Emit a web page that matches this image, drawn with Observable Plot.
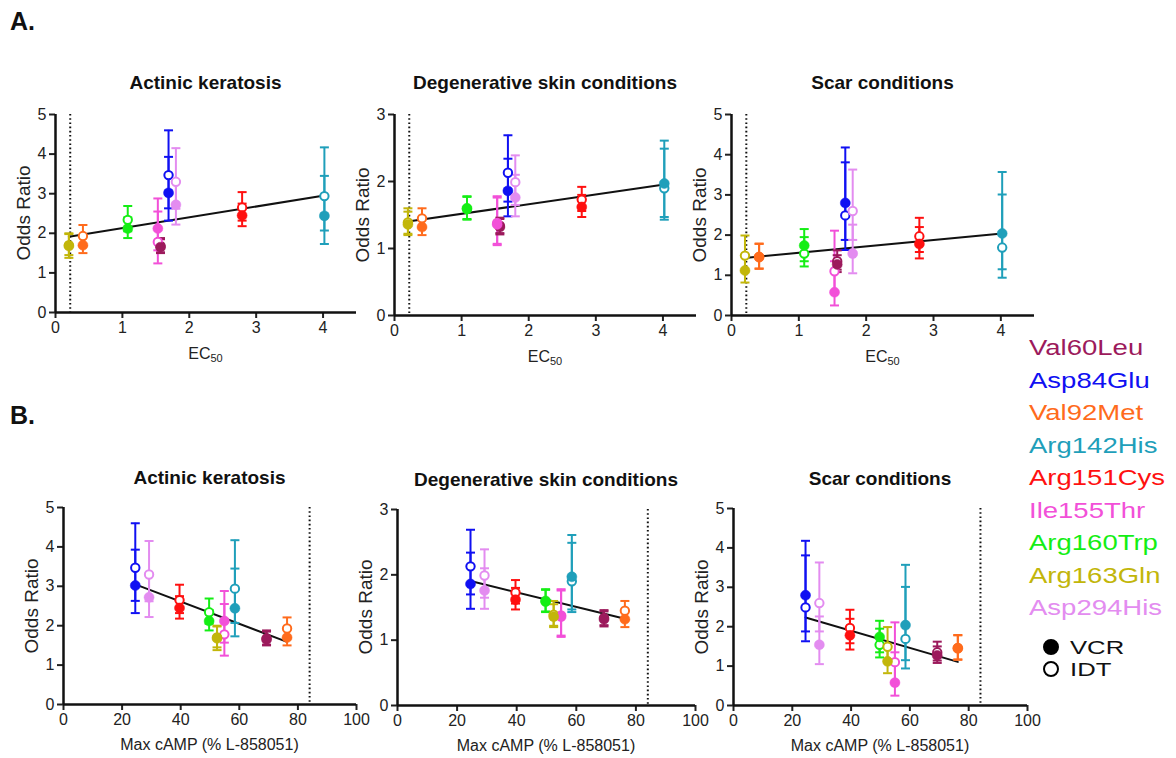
<!DOCTYPE html>
<html><head><meta charset="utf-8">
<script src="https://cdn.jsdelivr.net/npm/d3@7"></script>
<script src="https://cdn.jsdelivr.net/npm/@observablehq/plot@0.6"></script>
<style>
body{margin:0;background:#fff;font-family:"Liberation Sans",Arial,sans-serif;}
#root{position:relative;width:1176px;height:758px;overflow:hidden;background:#fff;}
.abs{position:absolute;white-space:nowrap;color:#111;line-height:1;}
.title{font-weight:bold;font-size:19px;transform:translate(-50%,-50%);}
.xlab{font-size:16px;transform:translate(-50%,-50%);color:#222;}
.xlab sub{font-size:11px;vertical-align:-3px;}
.ylab{font-size:19px;transform:translate(-50%,-50%) rotate(-90deg);color:#222;}
.panel{font-size:25px;font-weight:bold;}
.leg{font-size:22px;transform-origin:0 50%;transform:translateY(-50%) scaleX(1.25);}
.leg2{font-size:19px;transform-origin:0 50%;transform:translateY(-50%) scaleX(1.35);}
.dot{position:absolute;width:16px;height:16px;border-radius:50%;box-sizing:border-box;transform:translate(-50%,-50%);}
</style></head><body><div id="root"></div>
<script>
// ---------- data ----------
const variants = ["Val60Leu","Asp84Glu","Val92Met","Arg142His","Arg151Cys","Ile155Thr","Arg160Trp","Arg163Gln","Asp294His"];
const colors   = ["#9c1a5c","#1010f2","#ff6b1c","#1f9fba","#ff1010","#f250d8","#14ee14","#c2b60a","#e38cf0"];
const ec50     = [1.57, 1.69, 0.41, 4.02, 2.79, 1.53, 1.08, 0.20, 1.80];
const maxCamp  = [69.3, 24.5, 76.3, 58.5, 39.6, 54.9, 49.7, 52.4, 29.2];

// Actinic keratosis
const akVcr   = [1.65, 3.02, 1.70, 2.44, 2.45, 2.12, 2.12, 1.68, 2.72];
const akVcrLo = [1.50, 2.32, 1.50, 1.73, 2.18, 1.57, 1.88, 1.38, 2.22];
const akVcrHi = [1.85, 3.93, 1.92, 3.45, 2.75, 2.88, 2.40, 2.00, 3.32];
const akIdt   = [1.68, 3.47, 1.93, 2.94, 2.65, 1.78, 2.34, 1.70, 3.30];
const akIdtLo = [1.52, 2.63, 1.68, 2.07, 2.32, 1.24, 2.05, 1.45, 2.62];
const akIdtHi = [1.88, 4.60, 2.21, 4.17, 3.04, 2.55, 2.69, 1.98, 4.15];

// Degenerative skin conditions
const dsVcr   = [1.32, 1.86, 1.32, 1.97, 1.62, 1.36, 1.60, 1.36, 1.76];
const dsVcrLo = [1.21, 1.48, 1.20, 1.47, 1.47, 1.05, 1.44, 1.20, 1.48];
const dsVcrHi = [1.44, 2.34, 1.45, 2.61, 1.80, 1.78, 1.78, 1.55, 2.10];
const dsIdt   = [1.34, 2.13, 1.45, 1.90, 1.73, 1.38, 1.59, 1.39, 1.99];
const dsIdtLo = [1.23, 1.70, 1.31, 1.43, 1.56, 1.07, 1.43, 1.22, 1.65];
const dsIdtHi = [1.46, 2.69, 1.60, 2.49, 1.92, 1.76, 1.77, 1.60, 2.39];

// Scar conditions
const scVcr   = [1.27, 2.80, 1.45, 2.04, 1.78, 0.58, 1.74, 1.12, 1.54];
const scVcrLo = [1.08, 1.88, 1.16, 1.15, 1.42, 0.25, 1.35, 0.82, 1.05];
const scVcrHi = [1.50, 4.18, 1.79, 3.57, 2.20, 1.35, 2.15, 1.50, 2.26];
const scIdt   = [1.35, 2.49, 1.46, 1.69, 1.97, 1.10, 1.54, 1.49, 2.60];
const scIdtLo = [1.14, 1.63, 1.17, 0.94, 1.58, 0.58, 1.22, 1.10, 1.88];
const scIdtHi = [1.62, 3.81, 1.78, 3.01, 2.43, 2.11, 1.95, 1.99, 3.63];

const ec50Threshold = 0.22;
const maxThreshold = 84;

const conditions = {
  ak: {title: "Actinic keratosis", yMax: 5, vcr: akVcr, vcrLo: akVcrLo, vcrHi: akVcrHi, idt: akIdt, idtLo: akIdtLo, idtHi: akIdtHi},
  ds: {title: "Degenerative skin conditions", yMax: 3, vcr: dsVcr, vcrLo: dsVcrLo, vcrHi: dsVcrHi, idt: dsIdt, idtLo: dsIdtLo, idtHi: dsIdtHi},
  sc: {title: "Scar conditions", yMax: 5, vcr: scVcr, vcrLo: scVcrLo, vcrHi: scVcrHi, idt: scIdt, idtLo: scIdtLo, idtHi: scIdtHi}
};

function rowsFor(c, xs) {
  const rows = [];
  variants.forEach((v, i) => {
    rows.push({variant: v, assay: "VCR", x: xs[i], or: c.vcr[i], lo: c.vcrLo[i], hi: c.vcrHi[i]});
    rows.push({variant: v, assay: "IDT", x: xs[i], or: c.idt[i], lo: c.idtLo[i], hi: c.idtHi[i]});
  });
  return rows;
}

// ---------- layout ----------
const root = document.getElementById("root");
const FONT = "'Liberation Sans', Arial, sans-serif";
const ML = 40, MR = 12, MT = 10, MB = 32;

const panels = [
  {cond: "ak", x0: 55,  top: 114, w: 301, h: 198, mode: "A"},
  {cond: "ds", x0: 394, top: 114, w: 302, h: 201, mode: "A"},
  {cond: "sc", x0: 731, top: 114, w: 303, h: 201, mode: "A"},
  {cond: "ak", x0: 63,  top: 507, w: 293, h: 197, mode: "B"},
  {cond: "ds", x0: 397, top: 509, w: 298, h: 196, mode: "B"},
  {cond: "sc", x0: 733, top: 508, w: 294, h: 197, mode: "B"}
];

const capSymbol = {draw(ctx, size) { const w = Math.sqrt(size / Math.PI); ctx.moveTo(-w, 0); ctx.lineTo(w, 0); }};

function addDiv(cls, html, left, top) {
  const d = document.createElement("div");
  d.className = "abs " + cls;
  d.innerHTML = html;
  d.style.left = left + "px";
  d.style.top = top + "px";
  root.appendChild(d);
  return d;
}

for (const p of panels) {
  const c = conditions[p.cond];
  const isA = p.mode === "A";
  const xs = isA ? ec50 : maxCamp;
  const rows = rowsFor(c, xs);
  const vcrRows = rows.filter(r => r.assay === "VCR");
  const idtRows = rows.filter(r => r.assay === "IDT");
  const yTicks = d3.range(0, c.yMax + 1);
  const xDomain = isA ? [0, 4.5] : [0, 100];
  const xTicks = isA ? [0, 1, 2, 3, 4] : [0, 20, 40, 60, 80, 100];
  const thr = isA ? ec50Threshold : maxThreshold;

  const chart = Plot.plot({
    width: p.w + ML + MR,
    height: p.h + MT + MB,
    marginLeft: ML, marginRight: MR, marginTop: MT, marginBottom: MB,
    style: {fontFamily: FONT, fontSize: "16px", color: "#222", background: "transparent", overflow: "visible"},
    x: {domain: xDomain},
    y: {domain: [0, c.yMax]},
    color: {type: "ordinal", domain: variants, range: colors},
    marks: [
      Plot.axisX({ticks: xTicks, tickSize: 6, tickPadding: 3, strokeWidth: 2, fontSize: 16, label: null, tickFormat: d => String(d)}),
      Plot.axisY({ticks: yTicks, tickSize: 6, tickPadding: 3, strokeWidth: 2, fontSize: 16, label: null, tickFormat: d => String(d)}),
      Plot.ruleX([thr], {stroke: "#111", strokeWidth: 2, strokeDasharray: "1.6,2.6"}),
      Plot.linearRegressionY(rows, {x: "x", y: "or", stroke: "#111", strokeWidth: 2, ci: 0}),
      Plot.ruleX(rows, {x: "x", y1: "lo", y2: "hi", stroke: "variant", strokeWidth: 2}),
      Plot.dot(rows, {x: "x", y: "lo", symbol: capSymbol, r: 4.5, stroke: "variant", fill: "none", strokeWidth: 2}),
      Plot.dot(rows, {x: "x", y: "hi", symbol: capSymbol, r: 4.5, stroke: "variant", fill: "none", strokeWidth: 2}),
      Plot.dot(idtRows, {x: "x", y: "or", r: 4.2, fill: "white", stroke: "variant", strokeWidth: 2}),
      Plot.dot(vcrRows, {x: "x", y: "or", r: 5, fill: "variant", stroke: "variant", strokeWidth: 0.5}),
      Plot.ruleX([0], {stroke: "#111", strokeWidth: 2.5}),
      Plot.ruleY([0], {stroke: "#111", strokeWidth: 2.5})
    ]
  });
  chart.style.position = "absolute";
  chart.style.left = (p.x0 - ML) + "px";
  chart.style.top = (p.top - MT) + "px";
  root.appendChild(chart);

  const cx = p.x0 + p.w / 2;
  addDiv("title", c.title, cx, p.top - (isA ? 32 : 30));
  addDiv("xlab", isA ? "EC<sub>50</sub>" : "Max cAMP (% L-858051)", cx, p.top + p.h + (isA ? 43 : 41));
  addDiv("ylab", "Odds Ratio", p.x0 - 32, p.top + p.h / 2);
}

addDiv("panel", "A.", 10, 9);
addDiv("panel", "B.", 10, 403);

// legend
variants.forEach((v, i) => {
  const d = addDiv("leg", v, 1029, 348 + i * 32.5);
  d.style.color = colors[i];
});
const legDots = [{label: "VCR", filled: true, y: 647}, {label: "IDT", filled: false, y: 669}];
for (const l of legDots) {
  const dot = document.createElement("div");
  dot.className = "dot";
  dot.style.left = "1051px";
  dot.style.top = l.y + "px";
  dot.style.background = l.filled ? "#000" : "#fff";
  dot.style.border = "2.5px solid #000";
  root.appendChild(dot);
  addDiv("leg2", l.label, 1070, l.y).style.color = "#111";
}
</script></body></html>
